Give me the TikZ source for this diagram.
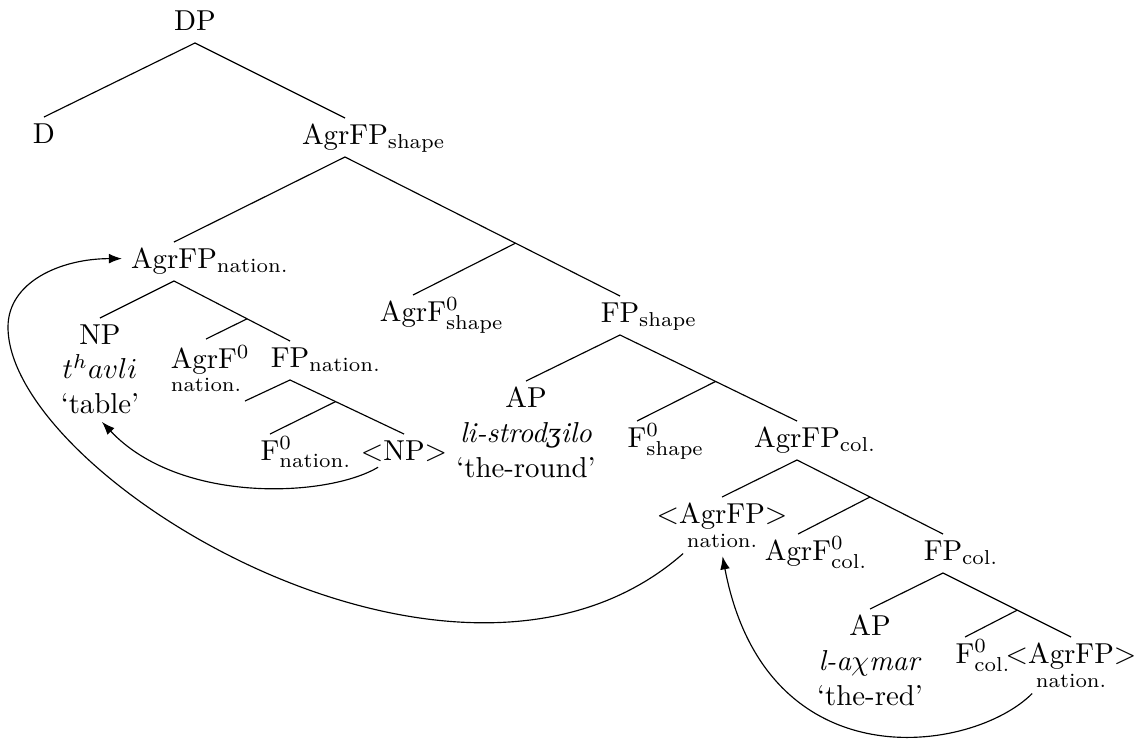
\documentclass[tikz,border=0pt]{standalone}
\usepackage{fontspec}
\usepackage{tikz}
\usetikzlibrary{arrows.meta,calc}
\newfontfamily\ipafont{DejaVu Serif}[Scale=0.88]
\tikzset{
  >={Latex[length=4.5pt]},
  lbl/.style={anchor=north,inner sep=0pt,outer ysep=2.2pt,text height=6.83pt,text depth=2.3pt},
  stack/.style={anchor=north,inner sep=0pt,outer ysep=2.2pt,align=center},
  move/.style={->,shorten >=1pt},
}
\newcommand{\tsub}[1]{\rlap{$_{\mathrm{#1}}$}}
\newcommand{\tsubsup}[1]{\rlap{$^{0}_{\mathrm{#1}}$}}

\begin{document}
\begin{tikzpicture}[
x=0.122mm,
y=-0.122mm
]
\useasboundingbox (0,0) rectangle (1143,740);

\node[lbl] (dP) at (195,4) {DP};
\node[lbl] (d) at (44,117) {D};
\node[lbl] (aSh) at (345,118) {AgrFP\tsub{shape}};
\node[lbl] (aNat) at (174,242) {AgrFP\tsub{nation.}};
\node[lbl] (aSh0) at (413,295) {AgrF\tsubsup{shape}};
\node[lbl] (fSh) at (620,296) {FP\tsub{shape}};
\node[stack] (nP) at (100,318) {NP\\ $t^havli$\\ `table'};
\node[stack,align=left] (aNat0) at (206,339) {AgrF\rlap{$^0$}\\[-4pt] {\scriptsize nation.}};
\node[lbl] (fNat) at (290,341) {FP\tsub{nation.}};
\node[stack] (aPSh) at (526,381) {AP\\ \textit{li-strod{\ipafont ʒ}ilo}\\ `the-round'};
\node[lbl] (fSh0) at (637,421) {F\tsubsup{shape}};
\node[lbl] (aCol) at (797,421) {AgrFP\tsub{col.}};
\node[lbl] (fNat0) at (270,434) {F\tsubsup{nation.}};
\node[lbl] (nPt) at (404,434) {$<$NP$>$};
\node[stack] (aNatT) at (722,497) {$<$AgrFP$>$\\[-4pt] {\scriptsize nation.}};
\node[lbl] (aCol0) at (798,534) {AgrF\tsubsup{col.}};
\node[lbl] (fCol) at (943,534) {FP\tsub{col.}};
\node[stack] (aPCol) at (870,609) {AP\\ \textit{l-a$\chi$mar}\\ `the-red'};
\node[lbl] (fCol0) at (965,637) {F\tsubsup{col.}};
\node[stack] (aColT) at (1071,637) {$<$AgrFP$>$\\[-4pt] {\scriptsize nation.}};

\coordinate (aShBar) at ($(aSh.south)!0.62!(fSh.north)$);
\coordinate (aNatBar) at ($(aNat.south)!0.63!(fNat.north)$);
\coordinate (fNatBar) at ($(fNat.south)!0.4!(nPt.north)$);
\coordinate (fNatSpec) at (245,401);
\coordinate (fShBar) at ($(fSh.south)!0.54!(aCol.north)$);
\coordinate (aColBar) at ($(aCol.south)!0.5!(fCol.north)$);
\coordinate (fColBar) at ($(fCol.south)!0.58!(aColT.north)$);
\coordinate (loopL) at (8,327);

\draw (dP.south) -- (d.north);
\draw (dP.south) -- (aSh.north);
\draw (aSh.south) -- (aNat.north);
\draw (aSh.south) -- (aShBar) -- (fSh.north);
\draw (aShBar) -- (aSh0.north);
\draw (aNat.south) -- (nP.north);
\draw (aNat.south) -- (aNatBar) -- (fNat.north);
\draw (aNatBar) -- (aNat0.north);
\draw (fNat.south) -- (fNatSpec);
\draw (fNat.south) -- (fNatBar) -- (nPt.north);
\draw (fNatBar) -- (fNat0.north);
\draw (fSh.south) -- (aPSh.north);
\draw (fSh.south) -- (fShBar) -- (aCol.north);
\draw (fShBar) -- (fSh0.north);
\draw (aCol.south) -- (aNatT.north);
\draw (aCol.south) -- (aColBar) -- (fCol.north);
\draw (aColBar) -- (aCol0.north);
\draw (fCol.south) -- (aPCol.north);
\draw (fCol.south) -- (fColBar) -- (aColT.north);
\draw (fColBar) -- (fCol0.north);

\draw[move] ([shift={(-9pt,2pt)}]nPt.south) .. controls +(-50,30) and +(80,85) .. (nP.south);
\draw[move,shorten >=3pt] ([xshift=-13.5pt]aNatT.south) .. controls +(-225,198) and +(0,150) .. (loopL)
  .. controls +(0,-45) and +(-70,0) .. ([yshift=1pt]aNat.west);
\draw[move] ([xshift=-13.5pt]aColT.south) .. controls +(-60,60) and +(44,230) .. (aNatT.south);
\end{tikzpicture}
\end{document}
